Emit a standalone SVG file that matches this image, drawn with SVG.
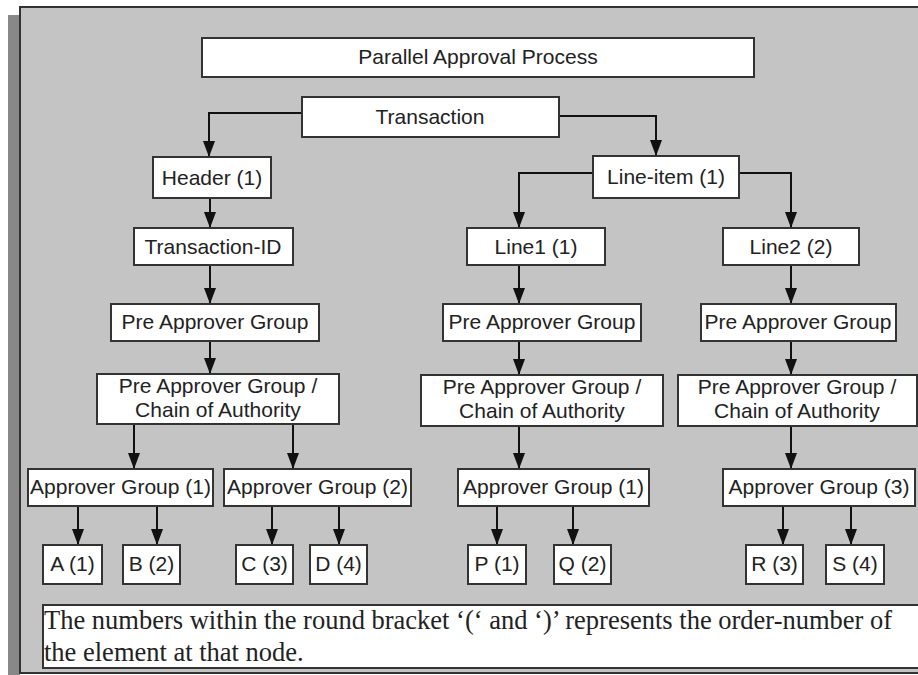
<svg xmlns="http://www.w3.org/2000/svg" width="918" height="675" viewBox="0 0 918 675">
<style>
.box{fill:#fff;stroke:#333;stroke-width:2}
.t{font-family:"Liberation Sans",Arial,sans-serif;font-size:21px;fill:#222;text-anchor:middle}
.note{font-family:"Liberation Serif","Times New Roman",serif;font-size:26.5px;fill:#222}
.c{fill:none;stroke:#111;stroke-width:2}
</style>
<defs>
<marker id="arr" markerUnits="userSpaceOnUse" markerWidth="16" markerHeight="12" viewBox="0 0 16 12" refX="16" refY="6" orient="auto">
<path d="M0,0 L16,6 L0,12 Z" fill="#111"/>
</marker>
</defs>
<rect x="0" y="0" width="918" height="675" fill="#fff"/>
<rect x="8" y="15" width="12" height="660" fill="#888"/>
<rect x="20" y="7" width="910" height="666" fill="#c4c4c4" stroke="#333" stroke-width="2"/>

<g id="connectors">
<path class="c" marker-end="url(#arr)" d="M302,113 H209 V157"/>
<path class="c" marker-end="url(#arr)" d="M559,116 H656 V156"/>
<path class="c" marker-end="url(#arr)" d="M210,198 V228"/>
<path class="c" marker-end="url(#arr)" d="M210,265 V304"/>
<path class="c" marker-end="url(#arr)" d="M210,341 V374"/>
<path class="c" marker-end="url(#arr)" d="M134,424 V469"/>
<path class="c" marker-end="url(#arr)" d="M293,424 V469"/>
<path class="c" marker-end="url(#arr)" d="M78,506 V545"/>
<path class="c" marker-end="url(#arr)" d="M157,506 V545"/>
<path class="c" marker-end="url(#arr)" d="M272,506 V545"/>
<path class="c" marker-end="url(#arr)" d="M339,506 V545"/>
<path class="c" marker-end="url(#arr)" d="M593,173 H519 V228"/>
<path class="c" marker-end="url(#arr)" d="M739,173 H791 V228"/>
<path class="c" marker-end="url(#arr)" d="M519,265 V304"/>
<path class="c" marker-end="url(#arr)" d="M519,341 V375"/>
<path class="c" marker-end="url(#arr)" d="M519,426 V469"/>
<path class="c" marker-end="url(#arr)" d="M497,506 V545"/>
<path class="c" marker-end="url(#arr)" d="M573,506 V545"/>
<path class="c" marker-end="url(#arr)" d="M791,265 V304"/>
<path class="c" marker-end="url(#arr)" d="M791,341 V375"/>
<path class="c" marker-end="url(#arr)" d="M791,426 V469"/>
<path class="c" marker-end="url(#arr)" d="M783,506 V545"/>
<path class="c" marker-end="url(#arr)" d="M851,506 V545"/>
</g>

<g id="title"><rect class="box" x="202" y="38" width="552" height="39"/><text class="t" x="478" y="64">Parallel Approval Process</text></g>
<g id="transaction"><rect class="box" x="302" y="97" width="257" height="40"/><text class="t" x="430" y="124">Transaction</text></g>
<g id="header"><rect class="box" x="153" y="157" width="118" height="41"/><text class="t" x="212" y="185">Header (1)</text></g>
<g id="transaction-id"><rect class="box" x="134" y="228" width="159" height="37"/><text class="t" x="213" y="254">Transaction-ID</text></g>
<g id="line-item"><rect class="box" x="593" y="156" width="146" height="42"/><text class="t" x="666" y="184">Line-item (1)</text></g>
<g id="line1"><rect class="box" x="467" y="228" width="138" height="37"/><text class="t" x="536" y="254">Line1 (1)</text></g>
<g id="line2"><rect class="box" x="723" y="228" width="136" height="37"/><text class="t" x="791" y="254">Line2 (2)</text></g>
<g id="pag-left"><rect class="box" x="111" y="304" width="208" height="37"/><text class="t" x="215" y="329">Pre Approver Group</text></g>
<g id="pag-mid"><rect class="box" x="443" y="304" width="198" height="37"/><text class="t" x="542" y="329">Pre Approver Group</text></g>
<g id="pag-right"><rect class="box" x="701" y="304" width="195" height="37"/><text class="t" x="798" y="329">Pre Approver Group</text></g>
<g id="coa-left"><rect class="box" x="97" y="374" width="242" height="50"/><text class="t" x="218" y="393">Pre Approver Group /</text><text class="t" x="218" y="417">Chain of Authority</text></g>
<g id="coa-mid"><rect class="box" x="421" y="375" width="242" height="51"/><text class="t" x="542" y="394">Pre Approver Group /</text><text class="t" x="542" y="418">Chain of Authority</text></g>
<g id="coa-right"><rect class="box" x="678" y="375" width="239" height="51"/><text class="t" x="797" y="394">Pre Approver Group /</text><text class="t" x="797" y="418">Chain of Authority</text></g>
<g id="ag1-left"><rect class="box" x="28" y="469" width="185" height="37"/><text class="t" x="120.5" y="494">Approver Group (1)</text></g>
<g id="ag2"><rect class="box" x="224" y="469" width="187" height="37"/><text class="t" x="317.5" y="494">Approver Group (2)</text></g>
<g id="ag1-mid"><rect class="box" x="458" y="469" width="191" height="37"/><text class="t" x="553.5" y="494">Approver Group (1)</text></g>
<g id="ag3"><rect class="box" x="723" y="469" width="192" height="37"/><text class="t" x="819" y="494">Approver Group (3)</text></g>
<g id="a"><rect class="box" x="43" y="545" width="59" height="39"/><text class="t" x="72.5" y="571">A (1)</text></g>
<g id="b"><rect class="box" x="123" y="545" width="57" height="39"/><text class="t" x="151.5" y="571">B (2)</text></g>
<g id="c"><rect class="box" x="236" y="545" width="57" height="39"/><text class="t" x="264.5" y="571">C (3)</text></g>
<g id="d"><rect class="box" x="310" y="545" width="57" height="39"/><text class="t" x="338.5" y="571">D (4)</text></g>
<g id="p"><rect class="box" x="468" y="545" width="58" height="39"/><text class="t" x="497" y="571">P (1)</text></g>
<g id="q"><rect class="box" x="554" y="545" width="57" height="39"/><text class="t" x="582.5" y="571">Q (2)</text></g>
<g id="r"><rect class="box" x="746" y="545" width="57" height="39"/><text class="t" x="774.5" y="571">R (3)</text></g>
<g id="s"><rect class="box" x="826" y="545" width="58" height="39"/><text class="t" x="855" y="571">S (4)</text></g>

<g id="note"><rect class="box" x="43" y="605" width="880" height="63"/>
<text class="note" x="44" y="629">The numbers within the round bracket ‘(‘ and ‘)’ represents the order-number of</text>
<text class="note" x="44" y="661">the element at that node.</text></g>
</svg>
